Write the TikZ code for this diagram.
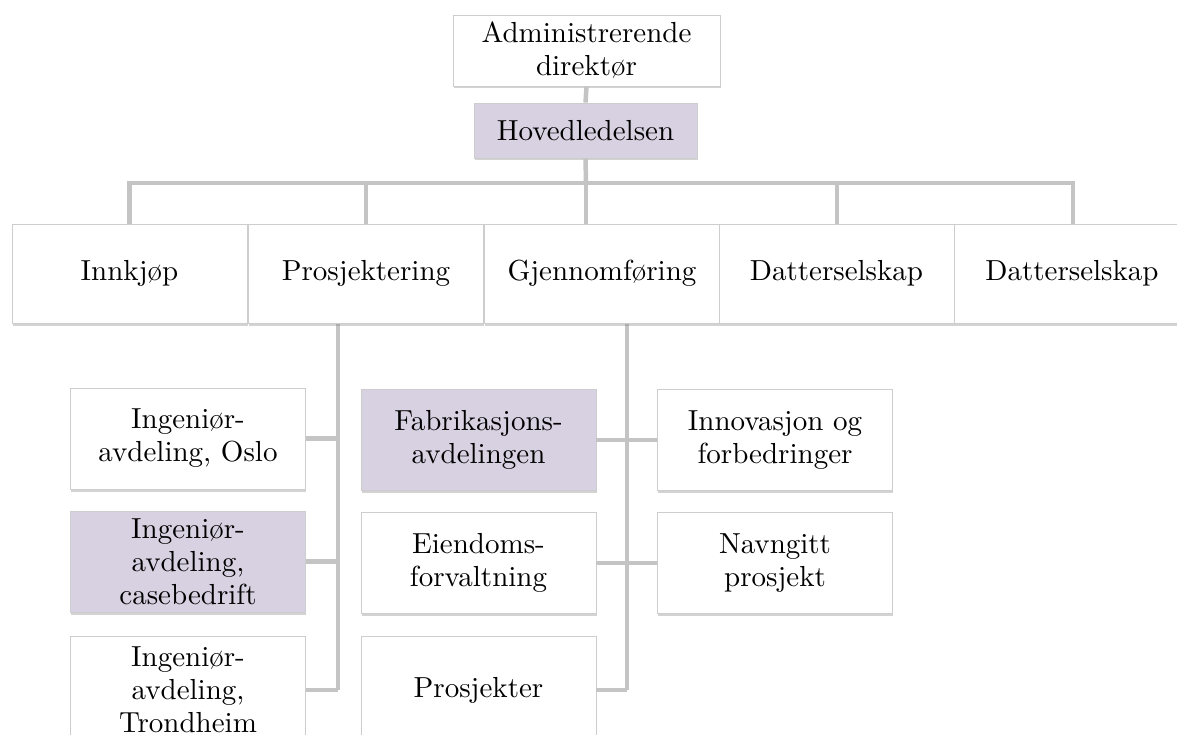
\documentclass[tikz,border=0pt]{standalone}
\usepackage{fontspec}
\setmainfont{lmroman10-regular}[Extension=.otf]
\usetikzlibrary{shadows}
\definecolor{lav}{RGB}{216,209,225}
\definecolor{linegray}{RGB}{196,196,196}
\definecolor{edgegray}{RGB}{205,205,205}
\tikzset{
  unit/.style={draw=edgegray, line width=0.8pt, fill=white, align=center,
    inner sep=0pt, font=\fontsize{29}{33}\selectfont,
    drop shadow={shadow xshift=0.8pt, shadow yshift=-2.5pt, opacity=0.35, fill=gray}},
  lavunit/.style={unit, fill=lav},
  conn/.style={draw=linegray, line width=4.5pt, line join=miter},
}
\begin{document}
\begin{tikzpicture}[x=1pt, y=-1pt]
\useasboundingbox (0,0) rectangle (1177,735);
\clip (0,0) rectangle (1177,735);

% trunk coordinates
\coordinate (bar) at (586,183);
\coordinate (ptop) at (338,323);
\coordinate (gtop) at (627,323);

% --- top of the chart ---
\node[unit, minimum width=267pt, minimum height=71pt] (adm) at (586.5,50.5) {Administrerende\\direktør};
\node[lavunit, minimum width=223pt, minimum height=55pt] (hov) at (585.5,130.5) {Hovedledelsen};

\draw[conn] (adm.south) -- (hov.north);
\draw[conn] (hov.south) -- (bar);

% level 2 connectors
\coordinate (innkTop) at (129.5,224);
\coordinate (prosTop) at (366,224);
\coordinate (gjenTop) at (586,224);
\coordinate (dat1Top) at (837,224);
\coordinate (dat2Top) at (1073,224);
\draw[conn] (innkTop) |- (bar) -| (dat2Top);
\draw[conn] (prosTop) -- (prosTop |- bar);
\draw[conn] (dat1Top) -- (dat1Top |- bar);
\draw[conn] (bar) -- (gjenTop);

% level 3 trunks
\coordinate (pbot) at (338,690);
\coordinate (gbot) at (627,690);
\draw[conn] (ptop) -- (pbot);
\draw[conn] (gtop) -- (gbot);

% --- departments ---
\begin{scope}[every node/.style={unit, minimum width=235pt, minimum height=99pt}]
\node (innk) at (129.5,273.5) {Innkjøp};
\node (pros) at (366,273.5) {Prosjektering};
\node (gjen) at (602,273.5) {Gjennomføring};
\node (dat1) at (836.5,273.5) {Datterselskap};
\node[minimum width=236pt] (dat2) at (1072,273.5) {Datterselskap};
\end{scope}

% --- units below ---
\begin{scope}[every node/.style={unit, minimum width=235pt, minimum height=101pt}]
\node (oslo) at (188,438.5) {Ingeniør-\\avdeling, Oslo};
\node[fill=lav] (case) at (188,561.5) {Ingeniør-\\avdeling,\\casebedrift};
\node[minimum height=108pt] (trond) at (188,690) {Ingeniør-\\avdeling,\\Trondheim};
\node[fill=lav] (fab) at (478.5,440) {Fabrikasjons-\\avdelingen};
\node (eien) at (478.5,563) {Eiendoms-\\forvaltning};
\node[minimum height=108pt] (prosj) at (478.5,690) {Prosjekter};
\node (innov) at (775,440) {Innovasjon og\\forbedringer};
\node (navn) at (775,563) {Navngitt\\prosjekt};
\end{scope}

% branch connectors
\draw[conn] (oslo.east) -- (oslo.east -| ptop);
\draw[conn] (case.east) -- (case.east -| ptop);
\draw[conn] (trond.east) -- (pbot);
\draw[conn] (fab.east) -- (innov.west);
\draw[conn] (eien.east) -- (navn.west);
\draw[conn] (prosj.east) -- (gbot);
\end{tikzpicture}
\end{document}
